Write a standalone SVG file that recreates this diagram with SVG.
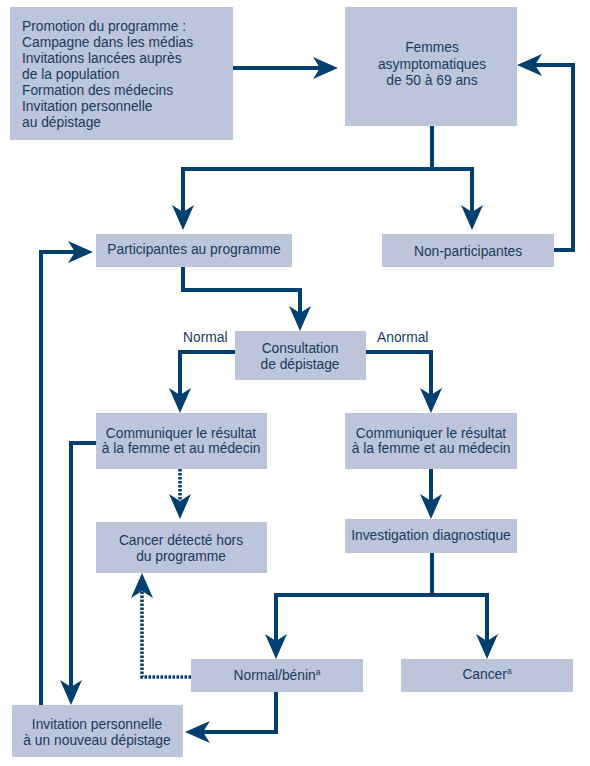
<svg xmlns="http://www.w3.org/2000/svg" width="590" height="766" viewBox="0 0 590 766">
<defs>
<marker id="ah" viewBox="0 0 25 24" markerWidth="25" markerHeight="24" refX="15" refY="12" orient="auto" markerUnits="userSpaceOnUse">
<path d="M25,12 L0,1 L7,12 L0,23 Z" fill="#003F6E"/>
</marker>
<style>
.box{fill:#BCC5D9}
.t{font-family:"Liberation Sans",Arial,sans-serif;font-size:13.8px;fill:#1A3A60;text-anchor:middle}
.tl{text-anchor:start}
.ln{fill:none;stroke:#003F6E;stroke-width:4;stroke-linejoin:miter}
.ar{marker-end:url(#ah)}
.dot{stroke-dasharray:2.5 1.5;stroke-width:3.5}
</style>
</defs>
<rect width="590" height="766" fill="#fff"/>
<g id="connectors">
<path class="ln ar" d="M233,68 H328"/>
<path class="ln ar" d="M554,250 H573 V65 H527"/>
<path class="ln ar" d="M432,126 V169 H472 V220"/>
<path class="ln ar" d="M432,169 H183 V220"/>
<path class="ln ar" d="M183,267 V290 H300 V321"/>
<path class="ln ar" d="M235,352 H180 V403"/>
<path class="ln ar" d="M366,352 H431 V403"/>
<path class="ln ar" d="M431,469 V509"/>
<path class="ln ar" d="M432,553 V595 H276 V649"/>
<path class="ln ar" d="M432,595 H487 V649"/>
<path class="ln ar" d="M276,692 V732 H195"/>
<path class="ln ar" d="M96,443 H71 V695"/>
<path class="ln ar" d="M41,705 V252 H83"/>
<path class="ln ar dot" d="M180,469 V509"/>
<path class="ln ar dot" d="M191,677 H142 V583"/>
<text class="t tl" x="183" y="342">Normal</text>
<text class="t tl" x="377" y="342">Anormal</text>
</g>
<g id="promotion">
<rect class="box" x="10" y="7" width="223" height="133"/>
<text class="t tl" x="22" y="31">Promotion du programme :</text>
<text class="t tl" x="22" y="47">Campagne dans les médias</text>
<text class="t tl" x="22" y="63">Invitations lancées auprès</text>
<text class="t tl" x="22" y="79">de la population</text>
<text class="t tl" x="22" y="95">Formation des médecins</text>
<text class="t tl" x="22" y="111">Invitation personnelle</text>
<text class="t tl" x="22" y="127">au dépistage</text>
</g>
<g id="femmes">
<rect class="box" x="345" y="7" width="172" height="119"/>
<text class="t" x="432" y="52">Femmes</text>
<text class="t" x="432" y="69">asymptomatiques</text>
<text class="t" x="432" y="85">de 50 à 69 ans</text>
</g>
<g id="participantes">
<rect class="box" x="96" y="234" width="196" height="33"/>
<text class="t" x="194" y="254">Participantes au programme</text>
</g>
<g id="non-participantes">
<rect class="box" x="382" y="234" width="172" height="33"/>
<text class="t" x="468" y="256">Non-participantes</text>
</g>
<g id="consultation">
<rect class="box" x="235" y="331" width="131" height="49"/>
<text class="t" x="300" y="353">Consultation</text>
<text class="t" x="300" y="369">de dépistage</text>
</g>
<g id="communiquer-normal">
<rect class="box" x="96" y="413" width="171" height="56"/>
<text class="t" x="181" y="438">Communiquer le résultat</text>
<text class="t" x="181" y="453">à la femme et au médecin</text>
</g>
<g id="communiquer-anormal">
<rect class="box" x="345" y="413" width="172" height="56"/>
<text class="t" x="431" y="438">Communiquer le résultat</text>
<text class="t" x="431" y="453">à la femme et au médecin</text>
</g>
<g id="cancer-hors">
<rect class="box" x="96" y="522" width="171" height="51"/>
<text class="t" x="181" y="545">Cancer détecté hors</text>
<text class="t" x="181" y="561">du programme</text>
</g>
<g id="investigation">
<rect class="box" x="345" y="519" width="172" height="34"/>
<text class="t" x="431" y="540">Investigation diagnostique</text>
</g>
<g id="normal-benin">
<rect class="box" x="191" y="659" width="172" height="33"/>
<text class="t" x="277" y="680">Normal/bénin<tspan font-size="8.5" dy="-5">a</tspan></text>
</g>
<g id="cancer">
<rect class="box" x="401" y="659" width="172" height="33"/>
<text class="t" x="487" y="679">Cancer<tspan font-size="8.5" dy="-5">a</tspan></text>
</g>
<g id="invitation">
<rect class="box" x="12" y="705" width="171" height="52"/>
<text class="t" x="97" y="729">Invitation personnelle</text>
<text class="t" x="97" y="745">à un nouveau dépistage</text>
</g>
</svg>
